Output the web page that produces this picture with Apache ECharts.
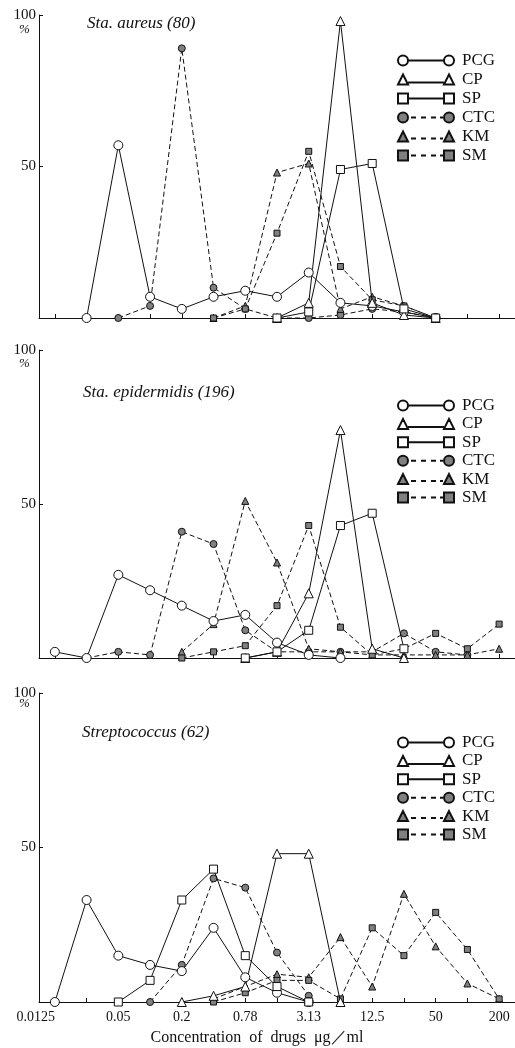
<!DOCTYPE html>
<html>
<head>
<meta charset="utf-8">
<script src="https://cdn.jsdelivr.net/npm/echarts@6/dist/echarts.min.js"></script>
<style>
html,body{margin:0;padding:0;background:#fff;}
#chart{width:515px;height:1048px;}
</style>
</head>
<body>
<div id="chart"></div>
<script>
// ---- data ----
var categories = ['0.0125','0.025','0.05','0.1','0.2','0.39','0.78','1.56','3.13','6.25','12.5','25','50','100','200'];
var seriesNames = ['PCG','CP','SP','CTC','KM','SM'];
var panelTitles = ['Sta. aureus (80)', 'Sta. epidermidis (196)', 'Streptococcus (62)'];
var yTicks = [0, 50, 100];
var xAxisTitle = 'Concentration  of  drugs  μg／ml';

// Sta. aureus (80)
var aureusPCG = [null, 0, 57, 7, 3, 7, 9, 7, 15, 5, 4, 2, 0, null, null];
var aureusCP  = [null, null, null, null, null, null, null, 0, 5, 98, 5, 1, 0, null, null];
var aureusSP  = [null, null, null, null, null, null, null, 0, 2, 49, 51, 3, 0, null, null];
var aureusCTC = [null, null, 0, 4, 89, 10, 3, 0, 0, 1, 3, 2, 0, null, null];
var aureusKM  = [null, null, null, null, null, 0, 4, 48, 51, 3, 7, 4, 0, null, null];
var aureusSM  = [null, null, null, null, null, 0, 3, 28, 55, 17, 6, 4, 0, null, null];

// Sta. epidermidis (196)
var epiPCG = [2, 0, 27, 22, 17, 12, 14, 5, 1, 0, null, null, null, null, null];
var epiCP  = [null, null, null, null, null, null, 0, 2, 21, 74, 3, 0, null, null, null];
var epiSP  = [null, null, null, null, null, null, 0, 2, 9, 43, 47, 3, null, null, null];
var epiCTC = [null, 0, 2, 1, 41, 37, 9, 2, 2, 2, 2, 8, 2, 1, null];
var epiKM  = [null, null, null, null, 2, 11, 51, 31, 3, 2, 1, 1, 1, 1, 3];
var epiSM  = [null, null, null, null, 0, 2, 4, 17, 43, 10, 1, 3, 8, 3, 11];

// Streptococcus (62)
var strepPCG = [0, 33, 15, 12, 10, 24, 8, 3, 0, null, null, null, null, null, null];
var strepCP  = [null, null, null, null, 0, 2, 5, 48, 48, 0, null, null, null, null, null];
var strepSP  = [null, null, 0, 7, 33, 43, 15, 5, 0, null, null, null, null, null, null];
var strepCTC = [null, null, null, 0, 12, 40, 37, 16, 2, null, null, null, null, null, null];
var strepKM  = [null, null, null, null, null, 1, 5, 9, 8, 21, 5, 35, 18, 6, 1];
var strepSM  = [null, null, null, null, null, 0, 3, 7, 7, 1, 24, 15, 29, 17, 1];

var panelData = [
  [aureusPCG, aureusCP, aureusSP, aureusCTC, aureusKM, aureusSM],
  [epiPCG, epiCP, epiSP, epiCTC, epiKM, epiSM],
  [strepPCG, strepCP, strepSP, strepCTC, strepKM, strepSM]
];

// ---- styles ----
var FONT = 'Liberation Serif';
var INK = '#111';
var GREY = '#808080';
var styles = {
  PCG: {symbol: 'circle',   size: 9, fill: '#fff', dashed: false},
  CP:  {symbol: 'triangle', size: 9, fill: '#fff', dashed: false},
  SP:  {symbol: 'rect',     size: 8, fill: '#fff', dashed: false},
  CTC: {symbol: 'circle',   size: 7, fill: GREY,   dashed: true},
  KM:  {symbol: 'triangle', size: 7, fill: GREY,   dashed: true},
  SM:  {symbol: 'rect',     size: 6, fill: GREY,   dashed: true}
};
// legend icons: symbol - line - symbol (56 x 10)
var solidLine = ' M10,5 L46,5';
var dashLine = ' M13,5 L18,5 M23,5 L28,5 M33,5 L38,5 M42,5 L45,5';
function circ(cx){ return 'M' + (cx-5) + ',5 A5,5 0 1,1 ' + (cx+5) + ',5 A5,5 0 1,1 ' + (cx-5) + ',5 Z'; }
function tri(cx){ return 'M' + cx + ',0 L' + (cx+5) + ',10 L' + (cx-5) + ',10 Z'; }
function sq(cx){ return 'M' + (cx-5) + ',0 L' + (cx+5) + ',0 L' + (cx+5) + ',10 L' + (cx-5) + ',10 Z'; }
var icons = {
  PCG: 'path://' + circ(5) + solidLine + ' ' + circ(51),
  CP:  'path://' + tri(5) + ' M10,8 L46,8 ' + tri(51),
  SP:  'path://' + sq(5) + solidLine + ' ' + sq(51),
  CTC: 'path://' + circ(5) + dashLine + ' ' + circ(51),
  KM:  'path://' + tri(5) + dashLine.replace(/,5/g, ',7') + ' ' + tri(51),
  SM:  'path://' + sq(5) + dashLine + ' ' + sq(51)
};

var gridTops = [15, 350, 693];
var gridHeights = [303, 308, 309];
var legendTops = [52, 397, 734];
var legendGaps = [2, 1.4, 1.4];
var titleTops = [15, 384, 724];
var titleLefts = [87, 83, 82];
var pctTops = [23, 357, 697];

var grids = [], xAxes = [], yAxes = [], series = [], titles = [], legends = [];
for (var p = 0; p < 3; p++) {
  grids.push({left: 39, right: 0, top: gridTops[p], height: gridHeights[p]});
  xAxes.push({
    type: 'category', gridIndex: p, data: categories, boundaryGap: true,
    axisLine: {lineStyle: {color: INK, width: 1}},
    axisTick: {show: true, inside: true, alignWithLabel: true, interval: 0, length: 4, lineStyle: {color: INK}},
    axisLabel: p === 2 ? {
      show: true, interval: 1, color: INK, fontFamily: FONT, fontSize: 14, margin: 8,
      formatter: function (v, i) { return i === 0 ? '{f|' + v + '}' : v; },
      rich: {f: {fontFamily: FONT, fontSize: 14, color: INK, padding: [0, 38, 0, 0]}}
    } : {show: false},
    splitLine: {show: false},
    name: p === 2 ? xAxisTitle : '',
    nameLocation: 'middle', nameGap: 28,
    nameTextStyle: {fontFamily: FONT, fontSize: 16, color: INK, padding: [0, 40, 0, 0]}
  });
  yAxes.push({
    type: 'value', gridIndex: p, min: yTicks[0], max: yTicks[2], interval: yTicks[1] - yTicks[0],
    axisLine: {show: true, lineStyle: {color: INK, width: 1}},
    axisTick: {show: true, inside: true, length: 4, lineStyle: {color: INK}},
    axisLabel: {color: INK, fontFamily: FONT, fontSize: 15, margin: 3,
      formatter: function (v) { return v === 0 ? '' : String(v); }},
    splitLine: {show: false}
  });
  titles.push({text: panelTitles[p], left: titleLefts[p], top: titleTops[p], padding: 0,
    textStyle: {fontFamily: FONT, fontStyle: 'italic', fontWeight: 'normal', fontSize: 17, color: INK}});
  titles.push({text: '%', left: 19, top: pctTops[p], padding: 0,
    textStyle: {fontFamily: FONT, fontStyle: 'italic', fontWeight: 'normal', fontSize: 13, color: INK}});
  legends.push({
    orient: 'vertical', left: 397, top: legendTops[p], padding: 0,
    itemWidth: 56, itemHeight: 10, itemGap: legendGaps[p], selectedMode: false,
    textStyle: {fontFamily: FONT, fontSize: 17, lineHeight: 16, color: INK, padding: [0, 0, 0, 3]},
    data: seriesNames.map(function (n) { return {name: n, icon: icons[n]}; })
  });
  for (var s = 0; s < seriesNames.length; s++) {
    var nm = seriesNames[s], st = styles[nm];
    series.push({
      name: nm, type: 'line', xAxisIndex: p, yAxisIndex: p,
      data: panelData[p][s],
      symbol: st.symbol, symbolSize: st.size, showSymbol: true,
      connectNulls: false,
      lineStyle: {color: INK, width: 1, type: st.dashed ? [5, 3] : 'solid'},
      itemStyle: {color: st.fill, borderColor: INK, borderWidth: 1},
      z: st.dashed ? 2 : 3,
      emphasis: {disabled: true}
    });
  }
}

var chart = echarts.init(document.getElementById('chart'), null, {renderer: 'canvas'});
chart.setOption({
  animation: false,
  backgroundColor: '#fff',
  title: titles,
  legend: legends,
  grid: grids,
  xAxis: xAxes,
  yAxis: yAxes,
  series: series
});
</script>
</body>
</html>
